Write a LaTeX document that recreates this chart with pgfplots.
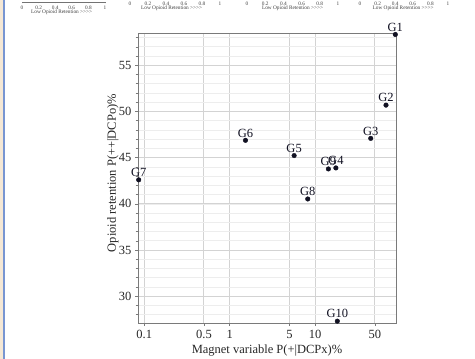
\documentclass[border=0pt]{standalone}
\usepackage{fontspec}
\setmainfont{Liberation Serif}
\newfontfamily\nolig{Liberation Serif}
\usepackage{pgfplots}
\pgfplotsset{compat=1.18}
\definecolor{gmaj}{HTML}{D3D3D3}
\definecolor{gmin}{HTML}{EDEDED}
\definecolor{framec}{HTML}{7A7A7A}
\definecolor{ptcol}{HTML}{111122}
\definecolor{barblue}{HTML}{7896D2}
\definecolor{barbeige}{HTML}{F5E8D5}
\pgfplotsset{
  mini/.style={
    scale only axis, height=1bp, xmin=0, xmax=1, ymin=0, ymax=1,
    hide y axis, axis x line*=bottom,
    xtick={0,0.2,0.4,0.6,0.8,1},
    tick label style={font=\fontsize{5.3bp}{6bp}\selectfont, text=black!75},
    /pgf/number format/assume math mode=true,
    xticklabel style={anchor=base, yshift=-5.8bp, inner sep=0pt},
    tick align=outside, major tick length=1.5bp,
    x axis line style={black!55, line width=0.4bp},
    every tick/.style={black!55, line width=0.3bp},
    xlabel={\nolig Low Opioid Retention >>>>},
  },
  minihidden/.style={
    x axis line style={draw=none}, major tick length=0pt,
  }
}
\begin{document}
\begin{tikzpicture}
\useasboundingbox (0bp,0bp) rectangle (475bp,359bp);
\fill[barbeige] (0bp,0bp) rectangle (2.8bp,359bp);
\fill[barblue] (2.8bp,0bp) rectangle (4.9bp,359bp);

% partial small axes at the top
\begin{axis}[mini, at={(22bp,357bp)}, anchor=south west, width=83bp,
  every axis x label/.style={at={(axis description cs:0.478,0)}, anchor=center, yshift=-10.7bp,
    font=\fontsize{5.3bp}{6bp}\selectfont, text=black!75, inner sep=0pt}]
\end{axis}
\begin{axis}[mini, minihidden, at={(130bp,359.3bp)}, anchor=south west, width=90bp,
  every axis x label/.style={at={(axis description cs:0.463,0)}, anchor=center, yshift=-9bp,
    font=\fontsize{5.3bp}{6bp}\selectfont, text=black!75, inner sep=0pt}]
\end{axis}
\begin{axis}[mini, minihidden, at={(247bp,359.3bp)}, anchor=south west, width=91bp,
  every axis x label/.style={at={(axis description cs:0.5,0)}, anchor=center, yshift=-9bp,
    font=\fontsize{5.3bp}{6bp}\selectfont, text=black!75, inner sep=0pt}]
\end{axis}
\begin{axis}[mini, minihidden, at={(360bp,359.3bp)}, anchor=south west, width=88bp,
  every axis x label/.style={at={(axis description cs:0.49,0)}, anchor=center, yshift=-9bp,
    font=\fontsize{5.3bp}{6bp}\selectfont, text=black!75, inner sep=0pt}]
\end{axis}

% main scatter
\begin{axis}[
  at={(138bp,36bp)}, anchor=south west, scale only axis, width=258bp, height=290bp,
  xmode=log, xmin=0.0844, xmax=88.5, ymin=27.1, ymax=58.5,
  xtick={0.1,0.5,1,5,10,50}, xticklabels={0.1,0.5,1,5,10,50},
  ytick={30,35,40,45,50,55},
  minor ytick={28,29,...,58},
  xminorticks=false,
  xmajorgrids, ymajorgrids, yminorgrids,
  major grid style={gmaj, line width=1bp},
  minor grid style={gmin, line width=0.7bp},
  axis line style={framec, line width=0.8bp},
  tick align=outside, xtick pos=bottom, ytick pos=left,
  major tick length=3bp, minor tick length=2.5bp,
  every tick/.style={framec, line width=0.6bp},
  tick label style={font=\fontsize{12.5bp}{15bp}\selectfont, text=black!85},
  /pgf/number format/assume math mode=true,
  xticklabel style={yshift=-0.5bp},
  xlabel={Magnet variable P(+|DCPx)\%},
  ylabel={Opioid retention P(++|DCPo)\%},
  every axis x label/.style={at={(axis description cs:0.5,-0.1045)}, anchor=base,
    font=\fontsize{12.5bp}{15bp}\selectfont, text=black!85},
  every axis y label/.style={at={(axis description cs:-0.0853,0.517)}, anchor=base, rotate=90,
    font=\fontsize{12.5bp}{15bp}\selectfont, text=black!85},
  clip=false,
]
\addplot[only marks, mark=*, mark size=2.3bp, ptcol,
  nodes near coords, point meta=explicit symbolic,
  nodes near coords style={anchor=base, yshift=3.2bp, inner sep=0pt,
    font=\fontsize{12.5bp}{15bp}\selectfont, text=ptcol}]
  table[meta=label] {
x y label
86.9 58.34 G1
67.6 50.69 G2
44.8 47.09 G3
14.3 43.78 G9
17.5 43.89 G4
5.68 45.23 G5
1.53 46.88 G6
0.086 42.6 G7
8.2 40.53 G8
18.2 27.3 G10
};
\end{axis}
\end{tikzpicture}
\end{document}
